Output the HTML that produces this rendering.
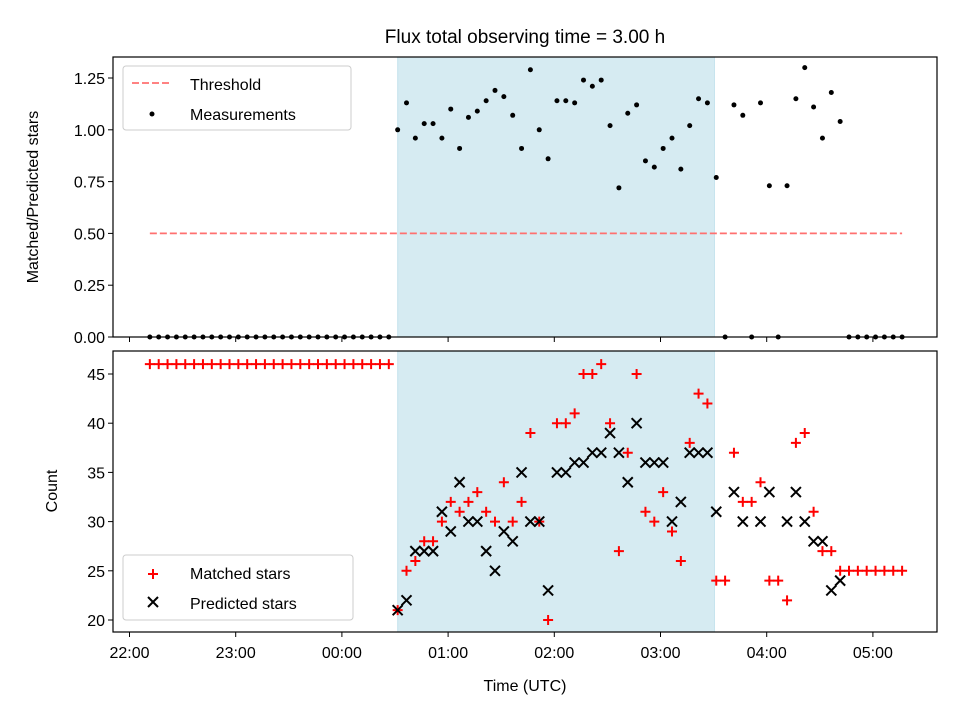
<!DOCTYPE html>
<html><head><meta charset="utf-8"><style>
body{margin:0;background:#fff}
svg text{font-family:"Liberation Sans","DejaVu Sans",sans-serif;fill:#000}
</style></head><body>
<svg id="chart" width="960" height="720" xmlns="http://www.w3.org/2000/svg"></svg>
<script>
// data: index k => time = 22:00 + (11.5 + 5k) minutes
const ratio = [0,0,0,0,0,0,0,0,0,0,0,0,0,0,0,0,0,0,0,0,0,0,0,0,0,0,0,0,
 1.00,1.13,0.96,1.03,1.03,0.96,1.10,0.91,1.06,1.09,1.14,1.19,1.16,1.07,0.91,1.29,1.00,0.86,1.14,1.14,1.13,1.24,1.21,1.24,1.02,0.72,1.08,1.12,0.85,0.82,0.91,0.96,0.81,1.02,1.15,1.13,0.77,
 0,1.12,1.07,0,1.13,0.73,0,0.73,1.15,1.30,1.11,0.96,1.18,1.04,0,0,0,0,0,0,0];
const matched = [46,46,46,46,46,46,46,46,46,46,46,46,46,46,46,46,46,46,46,46,46,46,46,46,46,46,46,46,
 21,25,26,28,28,30,32,31,32,33,31,30,34,30,32,39,30,20,40,40,41,45,45,46,40,27,37,45,31,30,33,29,26,38,43,42,24,
 24,37,32,32,34,24,24,22,38,39,31,27,27,25,25,25,25,25,25,25,25];
const predicted = [null,null,null,null,null,null,null,null,null,null,null,null,null,null,null,null,null,null,null,null,null,null,null,null,null,null,null,null,
 21,22,27,27,27,31,29,34,30,30,27,25,29,28,35,30,30,23,35,35,36,36,37,37,39,37,34,40,36,36,36,30,32,37,37,37,31,
 null,33,30,null,30,33,null,30,33,30,28,28,23,24,null,null,null,null,null,null,null];
const yTopTicks = [0,0.25,0.5,0.75,1.0,1.25];
const yBotTicks = [20,25,30,35,40,45];
const xTickLabels = ["22:00","23:00","00:00","01:00","02:00","03:00","04:00","05:00"];
const threshold = 0.5;
const shadeStartMin = 151.5, shadeEndMin = 330.5;

const NS="http://www.w3.org/2000/svg", svg=document.getElementById('chart');
function el(tag,attrs,parent){const e=document.createElementNS(NS,tag);for(const k in attrs)e.setAttribute(k,attrs[k]);(parent||svg).appendChild(e);return e;}
const L=113,R=937, T1=57,B1=337, T2=351,B2=632;
const xPix=m=>129.5+m*106.2/60;
const yTop=v=>B1-v*207.2;
const yBot=v=>620-(v-20)*9.84;
const tMin=k=>11.5+5*k;

let s=el('rect',{x:xPix(shadeStartMin),y:T1,width:xPix(shadeEndMin)-xPix(shadeStartMin),height:B1-T1,fill:'#add8e6','fill-opacity':0.5,stroke:'#add8e6','stroke-opacity':0.6});

s=el('rect',{x:xPix(shadeStartMin),y:T2,width:xPix(shadeEndMin)-xPix(shadeStartMin),height:B2-T2,fill:'#add8e6','fill-opacity':0.5,stroke:'#add8e6','stroke-opacity':0.6});


let th=el('line',{x1:xPix(tMin(0)),x2:xPix(tMin(ratio.length-1)),y1:yTop(threshold),y2:yTop(threshold),stroke:'#ff7070','stroke-width':1.8,'stroke-dasharray':'7,3'});


ratio.forEach((v,k)=>{const c=el('circle',{cx:xPix(tMin(k)),cy:yTop(v),r:2.5,fill:'#000'});
});
function plus(x,y,name){const g=el('path',{d:`M${x-5},${y}H${x+5}M${x},${y-5}V${y+5}`,stroke:'#f00','stroke-width':2});}
function cross(x,y,name){const g=el('path',{d:`M${x-5},${y-5}L${x+5},${y+5}M${x-5},${y+5}L${x+5},${y-5}`,stroke:'#000','stroke-width':2});}
matched.forEach((v,k)=>{if(v!=null)plus(xPix(tMin(k)),yBot(v),'matched-star-point');});
predicted.forEach((v,k)=>{if(v!=null)cross(xPix(tMin(k)),yBot(v),'predicted-star-point');});

let f=el('rect',{x:L,y:T1,width:R-L,height:B1-T1,fill:'none',stroke:'#000','stroke-width':1.2});
f=el('rect',{x:L,y:T2,width:R-L,height:B2-T2,fill:'none',stroke:'#000','stroke-width':1.2});

xTickLabels.forEach((lab,i)=>{const x=xPix(i*60);
 el('line',{x1:x,x2:x,y1:B1,y2:B1+5,stroke:'#000'});
 el('line',{x1:x,x2:x,y1:B2,y2:B2+5,stroke:'#000'});
 const t=el('text',{x:x,y:B2+26,'text-anchor':'middle','font-size':16});t.textContent=lab;
 });
yTopTicks.forEach(v=>{const y=yTop(v);el('line',{x1:L-5,x2:L,y1:y,y2:y,stroke:'#000'});
 const t=el('text',{x:L-8,y:y+6,'text-anchor':'end','font-size':16});t.textContent=v.toFixed(2);
 });
yBotTicks.forEach(v=>{const y=yBot(v);el('line',{x1:L-5,x2:L,y1:y,y2:y,stroke:'#000'});
 const t=el('text',{x:L-8,y:y+6,'text-anchor':'end','font-size':16});t.textContent=v;
 });
</script>
<svg width="960" height="720" style="position:absolute;left:0;top:0" xmlns="http://www.w3.org/2000/svg">
<text x="525" y="43" text-anchor="middle" font-size="19">Flux total observing time = 3.00 h</text>
<text transform="translate(38,197) rotate(-90)" text-anchor="middle" font-size="16">Matched/Predicted stars</text>
<text transform="translate(57,491) rotate(-90)" text-anchor="middle" font-size="16">Count</text>
<text x="525" y="691" text-anchor="middle" font-size="16">Time (UTC)</text>
<g>
<rect x="123" y="66" width="228" height="64" rx="3" fill="#fff" fill-opacity="0.8" stroke="#ccc"/>
<line x1="132" x2="172" y1="83" y2="83" stroke="#ff7070" stroke-width="1.8" stroke-dasharray="7,3"/>
<text x="190" y="90" font-size="16">Threshold</text>
<circle cx="152" cy="114" r="2.5" fill="#000"/>
<text x="190" y="120" font-size="16">Measurements</text>
</g>
<g>
<rect x="123" y="555" width="230" height="65" rx="3" fill="#fff" fill-opacity="0.8" stroke="#ccc"/>
<path d="M148,574H158M153,569V579" stroke="#f00" stroke-width="2"/>
<text x="190" y="579" font-size="16">Matched stars</text>
<path d="M148,597L158,607M148,607L158,597" stroke="#000" stroke-width="2"/>
<text x="190" y="609" font-size="16">Predicted stars</text>
</g>
</svg>
</body></html>
